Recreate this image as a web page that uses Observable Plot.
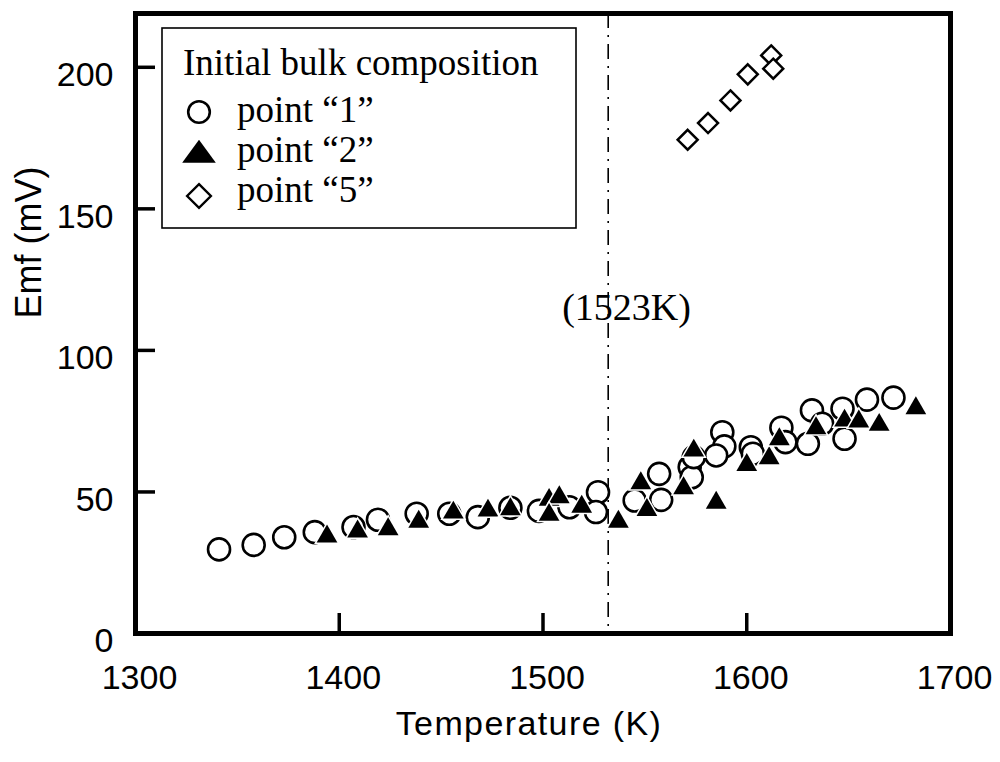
<!DOCTYPE html>
<html>
<head>
<meta charset="utf-8">
<script src="https://cdn.jsdelivr.net/npm/d3@7"></script>
<script src="https://cdn.jsdelivr.net/npm/@observablehq/plot@0.6"></script>
<style>
  html, body { margin: 0; padding: 0; background: white; }
  #wrap { position: relative; width: 1000px; height: 762px; }
  #legend { position: absolute; left: 161px; top: 27px; }
</style>
</head>
<body>
<div id="wrap"></div>
<script>
// ---- data ----
const point1T = [1341, 1358, 1373, 1388, 1407, 1419, 1438, 1454, 1468, 1484, 1498, 1513, 1527, 1526, 1545, 1557, 1558, 1572, 1573, 1574, 1588, 1589, 1585, 1602, 1603, 1617, 1619, 1630, 1632, 1637, 1647, 1648, 1659, 1672];
const point1E = [29.7, 31.3, 34.0, 35.8, 37.6, 40.2, 42.3, 42.3, 41.1, 44.4, 43.3, 44.6, 49.9, 42.9, 47.0, 56.4, 47.2, 58.8, 55.2, 62.3, 71.1, 66.1, 62.9, 65.8, 63.5, 72.7, 67.6, 67.0, 78.8, 74.1, 79.4, 68.8, 82.6, 83.3];

const point2T = [1394, 1409, 1424, 1439, 1456, 1473, 1484, 1503, 1508, 1503, 1519, 1537, 1548, 1551, 1569, 1574, 1585, 1600, 1611, 1616, 1634, 1648, 1655, 1665, 1683];
const point2E = [34.3, 36.0, 36.8, 39.5, 42.7, 43.4, 43.9, 47.2, 48.1, 41.9, 44.8, 39.5, 53.1, 43.6, 51.3, 64.6, 46.2, 59.5, 61.9, 68.6, 72.5, 75.2, 74.9, 73.7, 79.6];

const point5T = [1571, 1581, 1592, 1600.5, 1612, 1613];
const point5E = [174.4, 180.3, 188.3, 197.5, 204.2, 199.5];

const markerLineT = [1532];
const annotations = [{label: "(1523K)", T: 1541, E: 115}];

const xTicks = [1300, 1400, 1500, 1600, 1700];
const yTicks = [0, 50, 100, 150, 200];
const xDomain = [1300, 1700];
const yDomain = [0, 219];
const xTitle = "Temperature (K)";
const yTitle = "Emf (mV)";
const legendTitle = "Initial bulk composition";
const legendItems = [
  {label: "point \u201c1\u201d", symbol: "circle"},
  {label: "point \u201c2\u201d", symbol: "triangle"},
  {label: "point \u201c5\u201d", symbol: "diamond"}
];

// ---- tables ----
const s1 = point1T.map((t, i) => ({T: t, E: point1E[i]}));
const s2 = point2T.map((t, i) => ({T: t, E: point2E[i]}));
const s5 = point5T.map((t, i) => ({T: t, E: point5E[i]}));

const W = 1000, H = 762;
const mL = 135, mR = 50, mT = 13, mB = 129;
const frameW = W - mL - mR, frameH = H - mT - mB;

const chart = Plot.plot({
  width: W,
  height: H,
  marginLeft: mL,
  marginRight: mR,
  marginTop: mT,
  marginBottom: mB,
  style: {fontFamily: "'Liberation Sans', Arial, sans-serif", background: "white", color: "black"},
  x: {domain: xDomain},
  y: {domain: yDomain},
  marks: [
    Plot.ruleX(markerLineT, {x: d => d, stroke: "black", strokeWidth: 1.6, strokeDasharray: "15,7,2,7"}),
    Plot.tickX(xTicks, {x: d => d, insetTop: frameH - 20, stroke: "black", strokeWidth: 3.5}),
    Plot.tickY(yTicks, {y: d => d, insetRight: frameW - 20, stroke: "black", strokeWidth: 3.5}),
    Plot.axisX({ticks: xTicks, tickSize: 0, tickPadding: 31, fontSize: 34, dx: 4, label: null, tickFormat: d => String(d)}),
    Plot.axisY({ticks: yTicks, tickSize: 0, tickPadding: 22, fontSize: 34, dy: 8, label: null, tickFormat: d => String(d)}),
    Plot.text(annotations, {x: "T", y: "E", text: "label", fontFamily: "'Liberation Serif', 'Times New Roman', serif", fontSize: 38}),
    Plot.dot(s1, {x: "T", y: "E", r: 11, symbol: "circle", stroke: "black", strokeWidth: 2.6, fill: "white"}),
    Plot.dot(s2, {x: "T", y: "E", r: 7.7, symbol: "triangle", fill: "black", stroke: "white", strokeWidth: 3, paintOrder: "stroke"}),
    Plot.dot(s5, {x: "T", y: "E", r: 9, symbol: "diamond2", stroke: "black", strokeWidth: 2.5, fill: "white"}),
    Plot.frame({stroke: "black", strokeWidth: 5}),
    Plot.text([xTitle], {text: d => d, frameAnchor: "bottom", dy: 101, dx: -14, fontSize: 34, className: "xtitle"}),
    Plot.text([yTitle], {text: d => d, frameAnchor: "left", rotate: -90, dx: -106, dy: -5, fontSize: 36})
  ]
});

const wrap = document.getElementById("wrap");
wrap.appendChild(chart);
d3.select(chart).selectAll(".xtitle text").style("letter-spacing", "1.4px");

// ---- legend ----
const lg = d3.select(wrap).append("svg")
  .attr("id", "legend")
  .attr("width", 418).attr("height", 204)
  .style("font-family", "'Liberation Serif', 'Times New Roman', serif");
lg.append("rect").attr("x", 1).attr("y", 1).attr("width", 414).attr("height", 200)
  .attr("fill", "white").attr("stroke", "black").attr("stroke-width", 1.6);
lg.append("text").attr("x", 22).attr("y", 48).attr("font-size", 37).text(legendTitle);
const symMap = {circle: d3.symbolCircle, triangle: d3.symbolTriangle, diamond: d3.symbolDiamond2};
const rowY = [85, 126, 169];
const rowBase = [95, 135, 175];
legendItems.forEach((item, i) => {
  const g = lg.append("g").attr("transform", `translate(38,${rowY[i]})`);
  if (item.symbol === "circle") {
    g.append("path").attr("d", d3.symbol(symMap.circle, Math.PI * 10.8 * 10.8)())
      .attr("fill", "white").attr("stroke", "black").attr("stroke-width", 2.6);
  } else if (item.symbol === "triangle") {
    g.append("path").attr("d", d3.symbol(symMap.triangle, 340)()).attr("transform", "translate(0,2) scale(1.2,0.95)")
      .attr("fill", "black");
  } else {
    g.append("path").attr("d", d3.symbol(symMap.diamond, 360)())
      .attr("fill", "white").attr("stroke", "black").attr("stroke-width", 2.4);
  }
  lg.append("text").attr("x", 76).attr("y", rowBase[i]).attr("font-size", 37).text(item.label);
});
</script>
</body>
</html>
